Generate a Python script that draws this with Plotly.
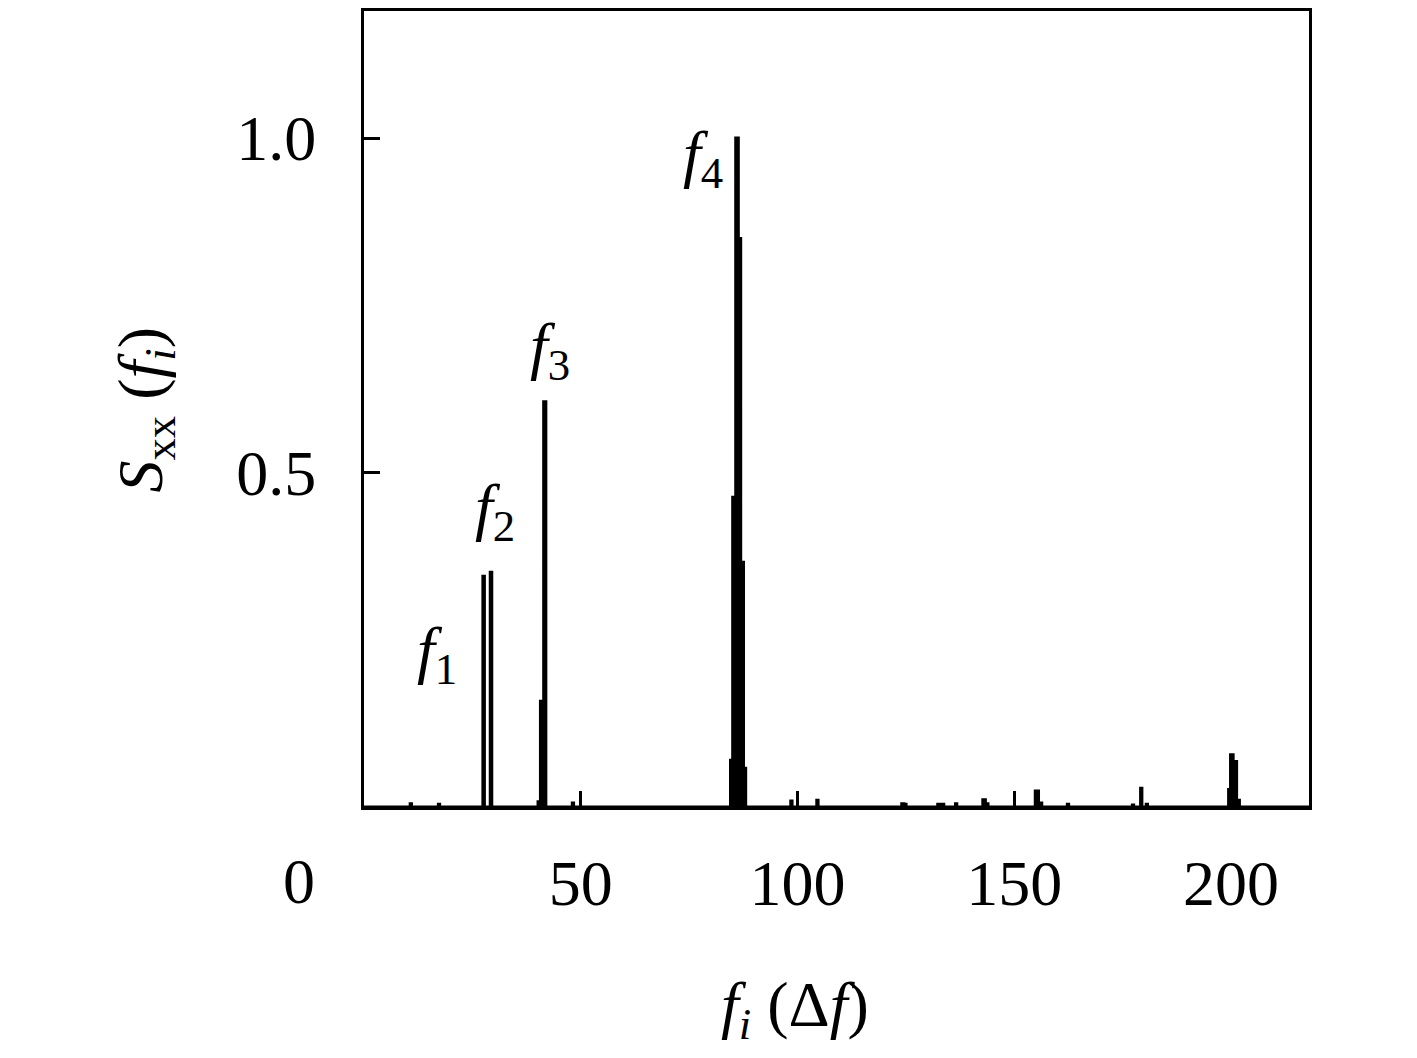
import plotly.graph_objects as go

# Spectrum values (frequency in units of delta f, normalised power)
freq = [0.0, 10.5, 10.8, 11.1, 17.0, 17.3, 17.6,
        27.25, 27.6, 27.95, 28.95, 29.3, 29.65,
        40.0, 40.3, 41.1, 41.8, 42.1,
        47.9, 48.2, 48.5,
        84.4, 84.7, 85.4, 86.1, 86.6, 87.2, 87.9, 88.2,
        98.3, 98.6, 98.9, 104.3, 104.6, 104.9,
        123.9, 124.2, 124.9, 125.2, 132.2, 132.5, 133.6, 133.9,
        136.3, 136.6, 136.9, 142.6, 142.9, 143.8, 144.1,
        154.7, 155.0, 156.2, 156.5, 162.1, 162.4, 162.7,
        177.1, 177.4, 177.7, 179.0, 179.3, 179.6, 180.3, 180.6, 180.9,
        199.3, 199.6, 200.2, 200.8, 201.8, 202.1, 218.0]
amp = [0.0, 0.0, 0.005, 0.0, 0.0, 0.004, 0.0,
       0.0, 0.345, 0.0, 0.0, 0.351, 0.0,
       0.0, 0.008, 0.158, 0.606, 0.0,
       0.0, 0.006, 0.0,
       0.0, 0.07, 0.463, 1.0, 0.85, 0.366, 0.058, 0.0,
       0.0, 0.009, 0.0, 0.0, 0.01, 0.0,
       0.0, 0.005, 0.004, 0.0, 0.0, 0.004, 0.004, 0.0,
       0.0, 0.005, 0.0, 0.0, 0.011, 0.005, 0.0,
       0.0, 0.024, 0.006, 0.0, 0.0, 0.004, 0.0,
       0.0, 0.003, 0.0, 0.0, 0.028, 0.0, 0.0, 0.004, 0.0,
       0.0, 0.026, 0.078, 0.068, 0.01, 0.0, 0.0]

# Peak labels
peak_names = ["<i>f</i><sub>1</sub>", "<i>f</i><sub>2</sub>",
              "<i>f</i><sub>3</sub>", "<i>f</i><sub>4</sub>"]
peak_x = [16.8, 30.2, 42.9, 78.1]
peak_y = [0.229, 0.442, 0.683, 0.97]

x_ticks = [50, 100, 150, 200]
y_ticks = [0.5, 1.0]
y_tick_text = ["0.5", "1.0"]

font_name = "Liberation Serif"
fsize = 64

fig = go.Figure()
fig.add_trace(go.Scatter(x=freq, y=amp, mode="lines", line_shape="hvh",
                         line=dict(color="black", width=3),
                         fill="tozeroy", fillcolor="black",
                         showlegend=False, hoverinfo="skip"))

for name, px_, py_ in zip(peak_names, peak_x, peak_y):
    fig.add_annotation(x=px_, y=py_, text=name, showarrow=False,
                       xanchor="center", yanchor="middle",
                       font=dict(family=font_name, size=fsize, color="black"))

# origin label sits below-left of the corner
fig.add_annotation(xref="paper", yref="paper", x=-0.069, y=-0.094, text="0",
                   xanchor="center", yanchor="middle", showarrow=False,
                   font=dict(family=font_name, size=fsize, color="black"))

# axis titles
fig.add_annotation(xref="paper", yref="paper", x=0.456, y=-0.254,
                   xanchor="center", yanchor="middle",
                   text="<i>f<sub>i</sub></i> (Δ<i>f</i>)", showarrow=False,
                   font=dict(family=font_name, size=fsize, color="black"))
fig.add_annotation(xref="paper", yref="paper", x=-0.232, y=0.499, textangle=-90,
                   xanchor="center", yanchor="middle",
                   text="<i>S</i><sub>xx</sub> (<i>f<sub>i</sub></i>)", showarrow=False,
                   font=dict(family=font_name, size=fsize, color="black"))

fig.update_xaxes(range=[0, 218], tickvals=x_ticks, ticks="inside", ticklen=16, tickwidth=3,
                 tickcolor="black", showline=True, linewidth=3, linecolor="black", mirror=True,
                 showgrid=False, zeroline=False, ticklabelstandoff=18,
                 tickfont=dict(family=font_name, size=fsize, color="black"))
fig.update_yaxes(range=[0, 1.19], tickvals=y_ticks, ticktext=y_tick_text, ticks="inside",
                 ticklen=16, tickwidth=3, tickcolor="black", showline=True, linewidth=3,
                 linecolor="black", mirror=True, showgrid=False, zeroline=False,
                 ticklabelstandoff=32,
                 tickfont=dict(family=font_name, size=fsize, color="black"))

fig.update_layout(width=1417, height=1058, plot_bgcolor="white", paper_bgcolor="white",
                  margin=dict(l=356, r=116, t=0, b=259))

fig.write_html("out.html")
